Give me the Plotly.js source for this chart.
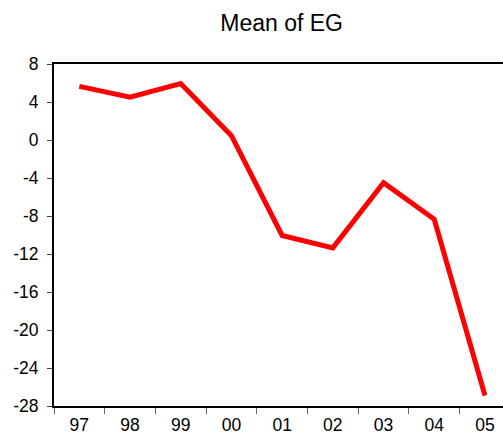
<!DOCTYPE html>
<html>
<head>
<meta charset="utf-8">
<script src="https://cdn.plot.ly/plotly-3.0.1.min.js"></script>
<style>
  html, body { margin: 0; padding: 0; background: #fff; }
  #chart { width: 503px; height: 439px; }
</style>
</head>
<body>
<div id="chart"></div>
<script>
// Data
const years = ['97', '98', '99', '00', '01', '02', '03', '04', '05'];
const meanEG = [5.65, 4.5, 5.95, 0.45, -10.05, -11.35, -4.5, -8.35, -26.9];
const yTickVals = [8, 4, 0, -4, -8, -12, -16, -20, -24, -28];
const yTickLabels = ['8', '4', '0', '-4', '-8', '-12', '-16', '-20', '-24', '-28'];
const chartTitle = 'Mean of EG';

const trace = {
  x: years,
  y: meanEG,
  type: 'scatter',
  mode: 'lines',
  line: { color: '#ff0000', width: 5 },
  hoverinfo: 'skip'
};

const layout = {
  width: 503,
  height: 439,
  margin: { l: 54, r: 0, t: 64, b: 33 },
  paper_bgcolor: '#ffffff',
  plot_bgcolor: '#ffffff',
  showlegend: false,
  font: { family: 'Liberation Sans, Arial, sans-serif', color: '#000000', size: 17.5 },
  title: {
    text: chartTitle,
    font: { family: 'Liberation Sans, Arial, sans-serif', size: 23, color: '#000000' },
    xref: 'paper', x: 0.507, xanchor: 'center',
    yref: 'container', y: 1 - 23 / 439, yanchor: 'middle'
  },
  xaxis: {
    type: 'category',
    range: [-0.5, 8.356],
    tickson: 'boundaries',
    ticks: 'outside',
    ticklen: 6,
    tickwidth: 1,
    tickcolor: '#666666',
    ticklabelstandoff: 2,
    showgrid: false,
    zeroline: false,
    showline: true,
    linecolor: '#000000',
    linewidth: 2,
    mirror: true,
    tickfont: { size: 17.5, color: '#000000' },
    fixedrange: true
  },
  yaxis: {
    range: [-28, 8],
    tickmode: 'array',
    tickvals: yTickVals,
    ticktext: yTickLabels,
    ticks: 'outside',
    ticklen: 5,
    tickwidth: 1,
    tickcolor: '#444444',
    ticklabelstandoff: 5,
    showgrid: false,
    zeroline: false,
    showline: true,
    linecolor: '#000000',
    linewidth: 2,
    tickfont: { size: 17.5, color: '#000000' },
    fixedrange: true
  }
};

Plotly.newPlot('chart', [trace], layout, { displayModeBar: false, staticPlot: true });
</script>
</body>
</html>
